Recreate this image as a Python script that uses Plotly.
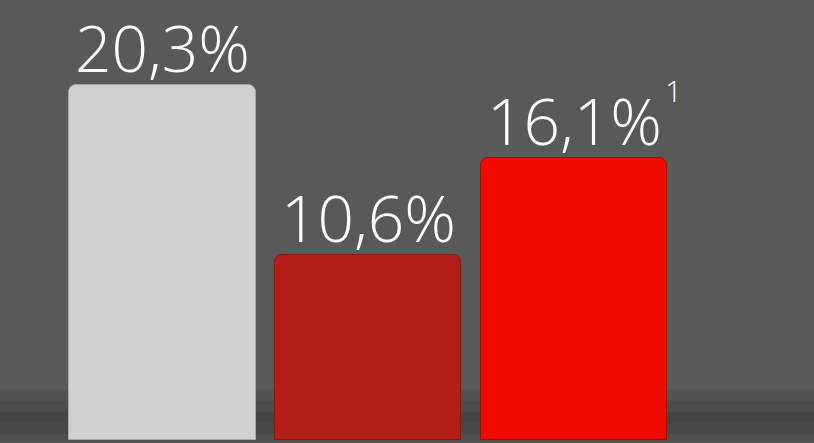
import plotly.graph_objects as go

categories = ["A", "B", "C"]
values = [20.3, 10.6, 16.1]
labels = ["20,3%", "10,6%", "16,1%"]
footnotes = ["", "", "1"]
colors = ["#d0d0d0", "#b31e19", "#f00d00"]
edge_colors = ["#a9a9a9", "#8e1511", "#a80800"]

xs = list(range(len(categories)))

fig = go.Figure()
fig.add_trace(go.Bar(
    x=xs, y=values, width=0.905,
    marker=dict(color=colors, line=dict(color=edge_colors, width=1), cornerradius=8),
    hoverinfo="skip", showlegend=False,
))

# floor shadow (decorative)
shapes = []
bands = [(0.005, 0.02, 0.10), (0.02, 0.045, 0.18), (0.045, 0.07, 0.22), (0.07, 0.095, 0.14), (0.095, 0.12, 0.07)]
for y0, y1, op in bands:
    shapes.append(dict(type="rect", xref="paper", yref="paper", x0=0, x1=1, y0=y0, y1=y1,
                       fillcolor="black", opacity=op, line=dict(width=0), layer="below"))

annotations = []
for x, v, t, fn in zip(xs, values, labels, footnotes):
    annotations.append(dict(x=x, y=v, xref="x", yref="y", text=t, showarrow=False,
                            xanchor="center", yanchor="bottom", yshift=-8,
                            font=dict(family="Open Sans", size=64, color="white", weight=300)))
    if fn:
        annotations.append(dict(x=x, y=v, xref="x", yref="y", text=fn, showarrow=False,
                                xanchor="left", yanchor="bottom", xshift=89, yshift=45,
                                font=dict(family="Open Sans", size=30, color="white", weight=300)))

fig.update_layout(
    width=814, height=443,
    margin=dict(l=0, r=0, t=0, b=0),
    paper_bgcolor="#595959", plot_bgcolor="#595959",
    xaxis=dict(range=[-0.790, 3.166], visible=False, fixedrange=True),
    yaxis=dict(range=[-0.17, 25.16], visible=False, fixedrange=True),
    shapes=shapes, annotations=annotations,
    bargap=0,
)

fig.write_html("out.html", config={"displayModeBar": False},
               post_script="document.body.style.margin='0';document.body.style.background='#595959';")
